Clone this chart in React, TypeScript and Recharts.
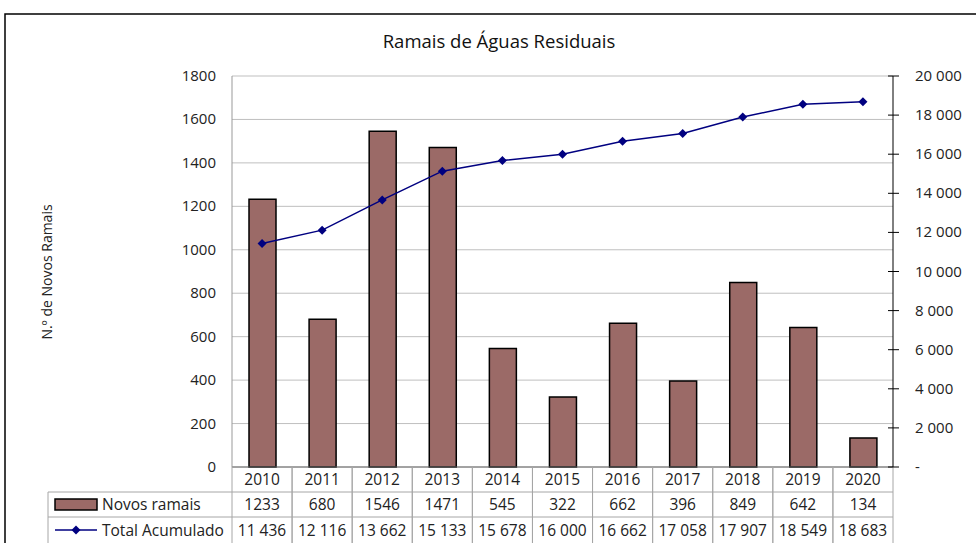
import { ComposedChart, Bar, Line, XAxis, YAxis, CartesianGrid } from 'recharts';

const years = ['2010', '2011', '2012', '2013', '2014', '2015', '2016', '2017', '2018', '2019', '2020'];
const novosRamais = [1233, 680, 1546, 1471, 545, 322, 662, 396, 849, 642, 134];
const totalAcumulado = [11436, 12116, 13662, 15133, 15678, 16000, 16662, 17058, 17907, 18549, 18683];
const leftTicks = [0, 200, 400, 600, 800, 1000, 1200, 1400, 1600, 1800];
const rightTicks = [0, 2000, 4000, 6000, 8000, 10000, 12000, 14000, 16000, 18000, 20000];

const data = years.map((year, i) => ({
    year,
    novos: novosRamais[i],
    total: totalAcumulado[i],
}));

const W = 976;
const H = 543;
const PLOT_LEFT = 232;
const PLOT_RIGHT = 893;
const PLOT_TOP = 76;
const PLOT_BOTTOM = 467;
const ROW1 = 492;
const ROW2 = 517;
const COL_W = (PLOT_RIGHT - PLOT_LEFT) / years.length;

const FONT = "'Open Sans', 'Noto Sans', sans-serif";
const BAR_FILL = '#9b6a67';
const LINE_COLOR = '#000080';
const TABLE_LINE = '#a6a6a6';

const spaced = (n: number) => String(n).replace(/\B(?=(\d{3})+(?!\d))/g, ' ');

// x axis tick draws a whole column of the data table
const TableTick = (props: any) => {
    const { x, payload, index } = props;
    const left = x - COL_W / 2;
    const right = x + COL_W / 2;
    const i = index ?? years.indexOf(payload.value);
    return (
        <g>
            <line x1={right} y1={PLOT_BOTTOM} x2={right} y2={H} stroke={TABLE_LINE} />
            <line x1={left} y1={PLOT_BOTTOM} x2={left} y2={H} stroke={TABLE_LINE} />
            <line x1={left} y1={ROW1} x2={right} y2={ROW1} stroke={TABLE_LINE} />
            <line x1={left} y1={ROW2} x2={right} y2={ROW2} stroke={TABLE_LINE} />
            <text x={x} y={485} textAnchor="middle" fontSize={15.5} fill="#222" fontFamily={FONT}>
                {payload.value}
            </text>
            <text x={x} y={510} textAnchor="middle" fontSize={15.5} fill="#222" fontFamily={FONT}>
                {novosRamais[i]}
            </text>
            <text x={x} y={536} textAnchor="middle" fontSize={15.5} fill="#222" fontFamily={FONT}>
                {spaced(totalAcumulado[i])}
            </text>
        </g>
    );
};

const LeftTick = (props: any) => {
    const { y, payload } = props;
    return (
        <text x={PLOT_LEFT - 16} y={y + 5} textAnchor="end" fontSize={15} fill="#222" fontFamily={FONT}>
            {payload.value}
        </text>
    );
};

const RightTick = (props: any) => {
    const { y, payload } = props;
    return (
        <g>
            <line x1={PLOT_RIGHT - 5} y1={y} x2={PLOT_RIGHT + 6} y2={y} stroke="#000" />
            <text x={PLOT_RIGHT + 22} y={y + 5} textAnchor="start" fontSize={15} fill="#222" fontFamily={FONT}>
                {payload.value === 0 ? '-' : spaced(payload.value)}
            </text>
        </g>
    );
};

const Diamond = (props: any) => {
    const { cx, cy } = props;
    if (cx == null || cy == null) return null;
    const s = 4.5;
    return <polygon points={`${cx},${cy - s} ${cx + s},${cy} ${cx},${cy + s} ${cx - s},${cy}`} fill={LINE_COLOR} />;
};

const App = () => {
    return (
        <div style={{ position: 'absolute', left: 0, top: 0, width: W, height: H, background: '#fff' }}>
            <ComposedChart
                width={W}
                height={H}
                data={data}
                margin={{ top: PLOT_TOP, right: W - PLOT_RIGHT - 80, bottom: 0, left: PLOT_LEFT - 60 }}
                barSize={27}
            >
                <CartesianGrid yAxisId="left" vertical={false} stroke="#bfbfbf" />
                <XAxis
                    dataKey="year"
                    height={H - PLOT_BOTTOM}
                    interval={0}
                    tickLine={false}
                    axisLine={{ stroke: '#666' }}
                    tick={<TableTick />}
                />
                <YAxis
                    yAxisId="left"
                    width={60}
                    domain={[0, 1800]}
                    ticks={leftTicks}
                    tickLine={false}
                    axisLine={{ stroke: '#999' }}
                    tick={<LeftTick />}
                />
                <YAxis
                    yAxisId="right"
                    orientation="right"
                    width={80}
                    domain={[0, 20000]}
                    ticks={rightTicks}
                    tickLine={false}
                    axisLine={{ stroke: '#000' }}
                    tick={<RightTick />}
                />
                <Bar
                    yAxisId="left"
                    dataKey="novos"
                    fill={BAR_FILL}
                    stroke="#000"
                    strokeWidth={1.5}
                    isAnimationActive={false}
                />
                <Line
                    yAxisId="right"
                    dataKey="total"
                    stroke={LINE_COLOR}
                    strokeWidth={1.5}
                    dot={<Diamond />}
                    activeDot={false}
                    isAnimationActive={false}
                />
            </ComposedChart>
            <svg
                width={W}
                height={H}
                style={{ position: 'absolute', left: 0, top: 0, pointerEvents: 'none' }}
            >
                <path d={`M5,${H} L5,14 L${W},14`} fill="none" stroke="#000" strokeWidth={1.5} />
                <text x={499} y={48} textAnchor="middle" fontSize={18.5} fill="#111" fontFamily={FONT}>
                    Ramais de Águas Residuais
                </text>
                <text
                    x={0}
                    y={0}
                    transform="translate(52,272) rotate(-90)"
                    textAnchor="middle"
                    fontSize={14}
                    fill="#222"
                    fontFamily={FONT}
                >
                    N.º de Novos Ramais
                </text>
                {/* left part of the data table: legend keys */}
                <line x1={48} y1={ROW1} x2={PLOT_LEFT} y2={ROW1} stroke={TABLE_LINE} />
                <line x1={48} y1={ROW2} x2={PLOT_LEFT} y2={ROW2} stroke={TABLE_LINE} />
                <line x1={48} y1={ROW1} x2={48} y2={H} stroke={TABLE_LINE} />
                <rect x={55} y={499} width={42} height={11} fill={BAR_FILL} stroke="#000" strokeWidth={1.5} />
                <text x={102} y={510} fontSize={15.5} fill="#222" fontFamily={FONT}>Novos ramais</text>
                <line x1={55} y1={530} x2={97} y2={530} stroke={LINE_COLOR} strokeWidth={1.5} />
                <polygon points="76,525.5 80.5,530 76,534.5 71.5,530" fill={LINE_COLOR} />
                <text x={102} y={536} fontSize={15.5} fill="#222" fontFamily={FONT}>Total Acumulado</text>
            </svg>
        </div>
    );
};

export default App;
